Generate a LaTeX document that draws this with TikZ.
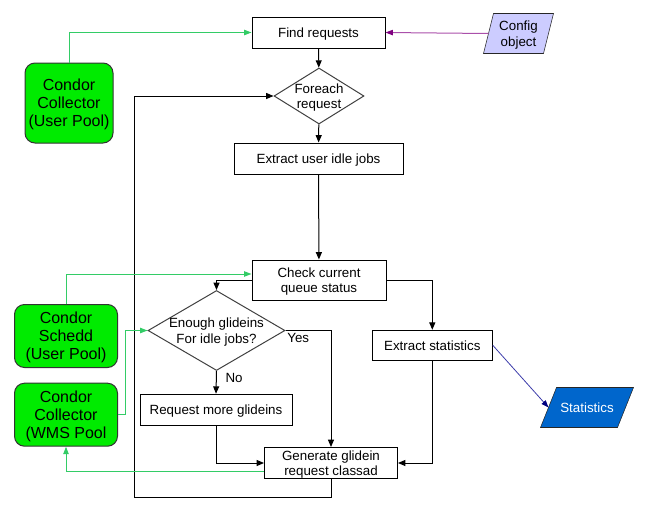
\documentclass[tikz,border=0pt]{standalone}
\usepackage{fontspec}
\setmainfont{Liberation Sans}
\usetikzlibrary{shapes.geometric,arrows.meta,backgrounds,calc}
\definecolor{lgreen}{RGB}{0,235,0}
\definecolor{lineg}{RGB}{51,204,102}
\definecolor{cfgfill}{RGB}{204,204,255}
\definecolor{statfill}{RGB}{0,102,204}
\definecolor{purp}{RGB}{170,80,170}
\definecolor{darkpurp}{RGB}{128,0,128}
\definecolor{bluel}{RGB}{60,60,170}
\definecolor{navyh}{RGB}{0,0,128}
\definecolor{dgray}{RGB}{64,64,64}
\begin{document}
\begin{tikzpicture}[x=0.75pt,y=-0.75pt,line width=0.75pt,
  every node/.style={font=\fontsize{10}{11.5}\selectfont},
  box/.style={draw, rectangle, inner sep=0pt, align=center, minimum height=23.25pt, text depth=0pt},
  dec/.style={draw=dgray, diamond, inner sep=0pt},
  dectext/.style={align=center, inner sep=0pt, text depth=0pt, font=\fontsize{10}{11.5}\selectfont},
  src/.style={draw=black!80, fill=lgreen, rounded corners=7.5pt, inner sep=0pt, align=center, text depth=0pt, font=\fontsize{12}{13.5}\selectfont},
  para/.style={inner sep=0pt, align=center, minimum height=29.25pt, text depth=0pt},
  flow/.style={-{Triangle[length=5.5pt,width=4.5pt]}},
  gflow/.style={draw=lineg, -{Triangle[length=5.5pt,width=4pt]}},
  yn/.style={inner sep=0pt, font=\fontsize{10}{11.5}\selectfont}
]
\useasboundingbox (0,0) rectangle (654,511);

% main flow nodes
\node[box, minimum width=99.75pt] (find) at (318.5,32.5) {Find requests};
\node[dec, minimum width=67.5pt, minimum height=42pt,
      label={[dectext]center:Foreach\\request}] (foreach) at (319,96) {};
\node[box, minimum width=126.75pt] (extract) at (318.5,158.5) {Extract user idle jobs};
\node[box, minimum width=100.5pt, minimum height=30pt] (check) at (319,280) {Check current\\queue status};
\node[dec, minimum width=102.75pt, minimum height=60pt,
      label={[dectext]center:Enough glideins\\For idle jobs?}] (enough) at (216.5,330.5) {};
\node[box, minimum width=114pt] (request) at (216,409.7) {Request more glideins};
\node[box, minimum width=99.75pt] (gen) at (331,463) {Generate glidein\\request classad};
\node[box, minimum width=90pt, minimum height=22.5pt] (stats) at (432.3,345.3) {Extract statistics};

% sources
\node[src, minimum width=66pt, minimum height=60pt] (ccu) at (69,103) {Condor\\Collector\\(User Pool)};
\node[src, minimum width=77.25pt, minimum height=47.25pt] (schedd) at (66,336) {Condor\\Schedd\\(User Pool)};
\node[src, minimum width=77.25pt, minimum height=47.25pt] (ccw) at (66,414.7) {Condor\\Collector\\(WMS Pool};

% data objects (parallelograms)
\node[para, minimum width=44.25pt] (cfg) at (518.5,33.5) {Config\\object};
\node[para, minimum width=57pt, text=white] (statobj) at (587,407.5) {Statistics};
\begin{scope}[on background layer]
  \draw[fill=cfgfill, draw=black!85]
    ([xshift=3.75pt]cfg.north west) -- ([xshift=3.75pt]cfg.north east) --
    ([xshift=-3.75pt]cfg.south east) -- ([xshift=-3.75pt]cfg.south west) -- cycle;
  \draw[fill=statfill, draw=black!85]
    ([xshift=6pt]statobj.north west) -- ([xshift=6pt]statobj.north east) --
    ([xshift=-6pt]statobj.south east) -- ([xshift=-6pt]statobj.south west) -- cycle;
\end{scope}

% coordinates for the loop back
\coordinate (loopc) at (134,497.3);
\coordinate (ccwturn) at (125,414.7);

% main flow connectors
\draw[flow] (find) -- (foreach);
\draw[flow] (foreach) -- (extract);
\draw[flow] (extract) -- (check);
\draw[flow] (check.west) -| (enough.north);
\draw[flow] (enough.south) -- node[yn, pos=0.32, anchor=west, xshift=6.5pt] {No} (request.north);
\draw[flow] (enough.east) -| node[yn, pos=0, anchor=north west, xshift=1pt, yshift=-1.5pt] {Yes} (gen.north);
\draw[flow] (request.south) |- (gen.west);
\draw[flow] (check.east) -| (stats.north);
\draw[flow] (stats.south) |- (gen.east);
\draw[flow] (gen.south) |- (loopc) |- (foreach.west);

% green data flows
\draw[gflow] (ccu.north) |- (find.west);
\draw[gflow] (schedd.north) |- ([yshift=4.5pt]check.west);
\draw[gflow] (ccw.east) -- (ccwturn) |- (enough.west);
\draw[gflow] ([yshift=-6pt]gen.west) -| (ccw.south);

% config and statistics flows
\draw[draw=purp, -{Triangle[length=5.5pt,width=4pt,color=darkpurp]}] (cfg.west) -- (find.east);
\draw[draw=bluel, line width=0.6pt, -{Triangle[length=5.5pt,width=4pt,color=navyh]}] (stats.east) -- (statobj.west);
\end{tikzpicture}
\end{document}
